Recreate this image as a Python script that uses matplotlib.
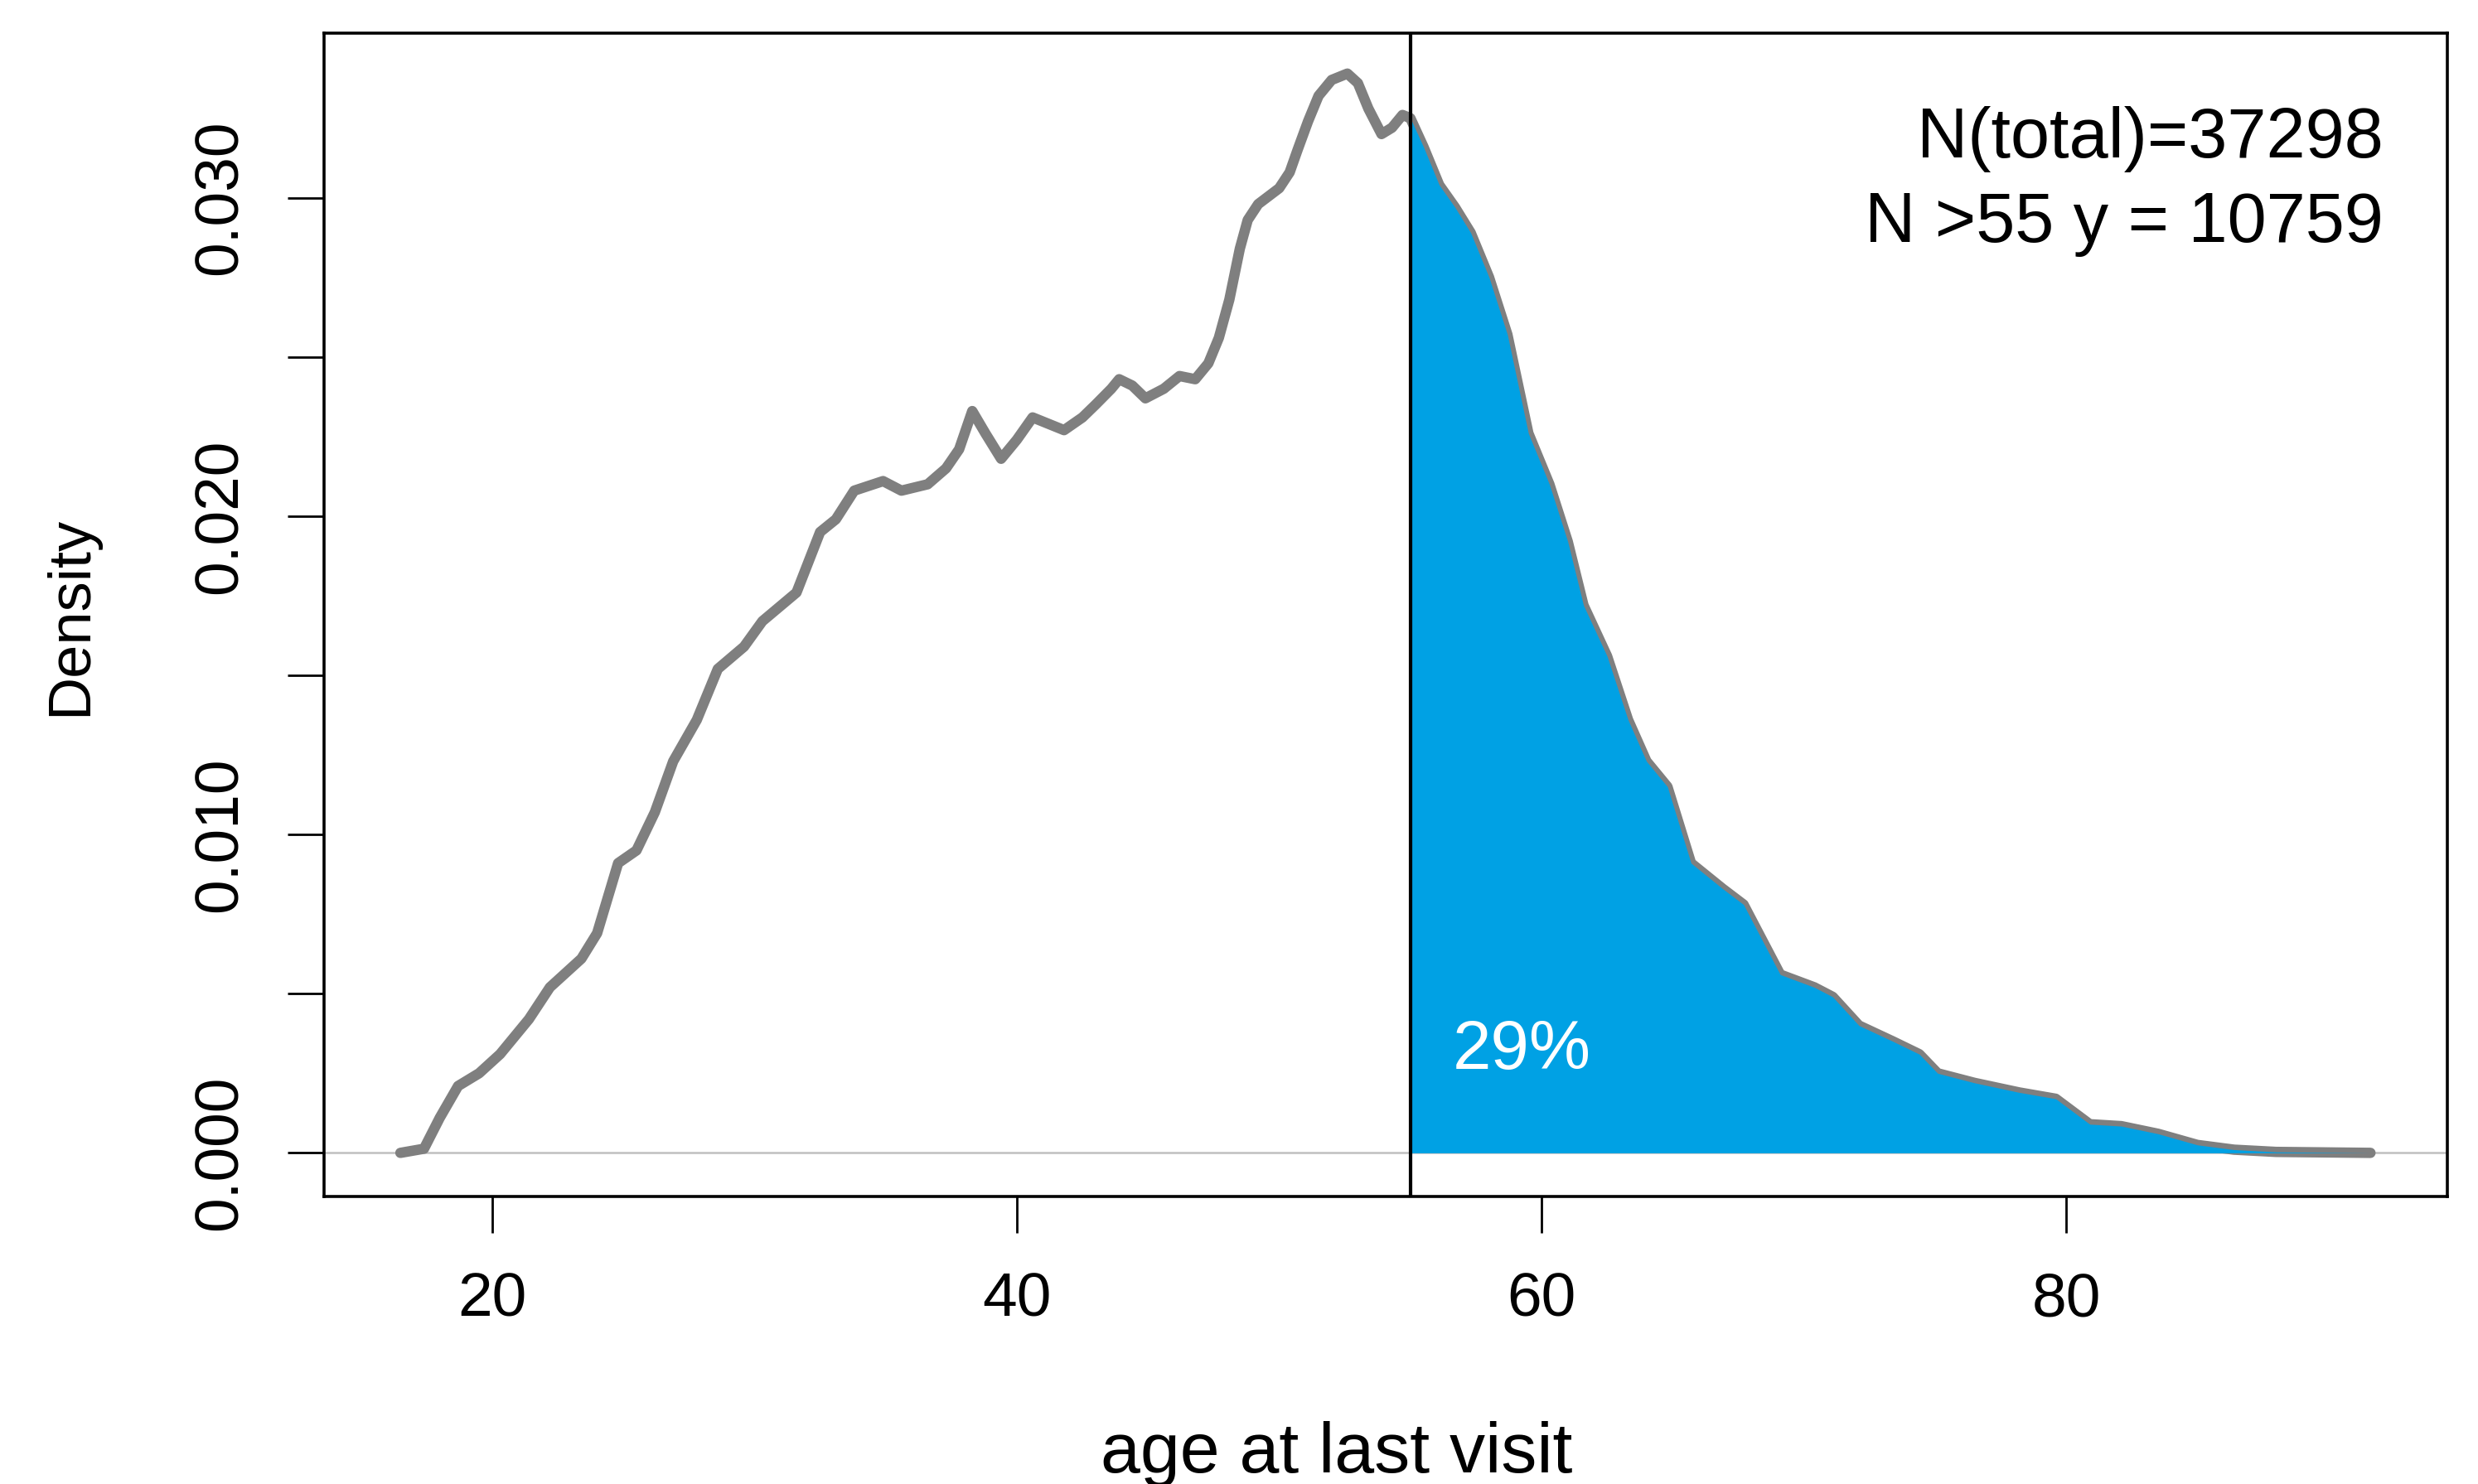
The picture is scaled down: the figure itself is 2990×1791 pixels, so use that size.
import matplotlib.pyplot as plt
import numpy as np

plt.rcParams['font.family'] = ['Liberation Sans', 'DejaVu Sans']

# density curve of age at last visit
age = [16.5, 17.4, 18.0, 18.7, 19.5, 20.3, 21.4, 22.2, 23.4, 24.0, 24.8, 25.5,
       26.2, 26.9, 27.8, 28.6, 29.6, 30.3, 31.6, 32.5, 33.1, 33.8, 34.9, 35.6,
       36.6, 37.3, 37.8, 38.3, 38.8, 39.4, 40.0, 40.6, 41.2, 41.8, 42.5, 43.0,
       43.6, 43.9, 44.4, 44.9, 45.6, 46.2, 46.8, 47.3, 47.7, 48.1, 48.5, 48.8,
       49.2, 50.0, 50.4, 50.7, 51.1, 51.5, 52.0, 52.6, 53.0, 53.4, 53.9, 54.3,
       54.7, 55.0, 55.5, 56.1, 56.7, 57.3, 58.0, 58.7, 59.5, 60.3, 61.0, 61.6,
       62.5, 63.3, 64.0, 64.8, 65.7, 66.9, 67.7, 69.1, 70.4, 71.1, 72.1, 73.4,
       74.4, 75.1, 76.5, 78.2, 79.6, 80.9, 82.1, 83.5, 85.0, 86.4, 88.0, 91.6]
density = [0.0000, 0.00013, 0.0011, 0.0021, 0.0025, 0.0031, 0.0042, 0.0052,
           0.0061, 0.0069, 0.0091, 0.0095, 0.0107, 0.0123, 0.0136, 0.0152,
           0.0159, 0.0167, 0.0176, 0.0195, 0.0199, 0.0208, 0.0211, 0.0208,
           0.0210, 0.0215, 0.0221, 0.0233, 0.0226, 0.0218, 0.0224, 0.0231,
           0.0229, 0.0227, 0.0231, 0.0235, 0.0240, 0.0243, 0.0241, 0.0237,
           0.0240, 0.0244, 0.0243, 0.0248, 0.0256, 0.0268, 0.0284, 0.0293,
           0.0298, 0.0303, 0.0308, 0.0315, 0.0324, 0.0332, 0.0337, 0.0339,
           0.0336, 0.0328, 0.0320, 0.0322, 0.0326, 0.0325, 0.0316, 0.0304,
           0.0297, 0.0289, 0.0275, 0.0257, 0.0226, 0.0210, 0.0192, 0.0172,
           0.0156, 0.0136, 0.0123, 0.0115, 0.0091, 0.0083, 0.0078, 0.0056,
           0.0052, 0.0049, 0.0040, 0.0035, 0.0031, 0.0025, 0.0022, 0.0019,
           0.0017, 0.0009, 0.00084, 0.0006, 0.00025, 0.0001, 0.00003, 0.0]

cutoff = 55
share_label = '29%'
info_lines = ['N(total)=37298', 'N >55 y = 10759']
x_ticks = [20, 40, 60, 80]
y_ticks = [0.0, 0.005, 0.010, 0.015, 0.020, 0.025, 0.030]
y_ticklabels = ['0.000', '', '0.010', '', '0.020', '', '0.030']

W, H = 2990, 1791
fig = plt.figure(figsize=(W / 200, H / 200), dpi=200)
ax = fig.add_axes([391 / W, 1 - 1444 / H, (2953 - 391) / W, (1444 - 40) / H])

def fx(px):
    return px / W

def fy(py):
    return 1 - py / H

age = np.array(age)
density = np.array(density)

ax.axhline(0, color='#c0c0c0', lw=0.9, zorder=1)
ax.plot(age, density, color='#7f7f7f', lw=4.5, solid_joinstyle='round',
        solid_capstyle='round', zorder=2)
right = age >= cutoff
ax.fill_between(age[right], 0, density[right], color='#00a1e4', lw=0, zorder=3)
ax.axvline(cutoff, color='black', lw=1.5, zorder=4)

ax.text(56.6, 0.00265, share_label, color='white', fontsize=30,
        ha='left', va='baseline', zorder=5)

ax.set_xlim(13.59, 94.53)
ax.set_ylim(-0.00137, 0.03517)
ax.set_xticks(x_ticks)
ax.set_xticklabels([str(t) for t in x_ticks])
ax.set_yticks(y_ticks)
ax.set_yticklabels(y_ticklabels)
ax.tick_params(axis='both', length=16, width=1.0, labelsize=27, pad=16.5,
               color='black')
ax.tick_params(axis='y', labelrotation=90)
for lbl in ax.get_yticklabels():
    lbl.set_va('center')
for sp in ax.spines.values():
    sp.set_linewidth(1.3)

fig.text(fx(1613), fy(1777), 'age at last visit', fontsize=31,
         ha='center', va='baseline')
fig.text(fx(86), fy(743), 'Density', fontsize=26, rotation=90,
         ha='center', va='center')

fig.text(fx(2876), fy(190), info_lines[0], fontsize=30.5,
         ha='right', va='baseline')
fig.text(fx(2876), fy(292), info_lines[1], fontsize=30.5,
         ha='right', va='baseline')

fig.savefig('out.png', dpi=200)
